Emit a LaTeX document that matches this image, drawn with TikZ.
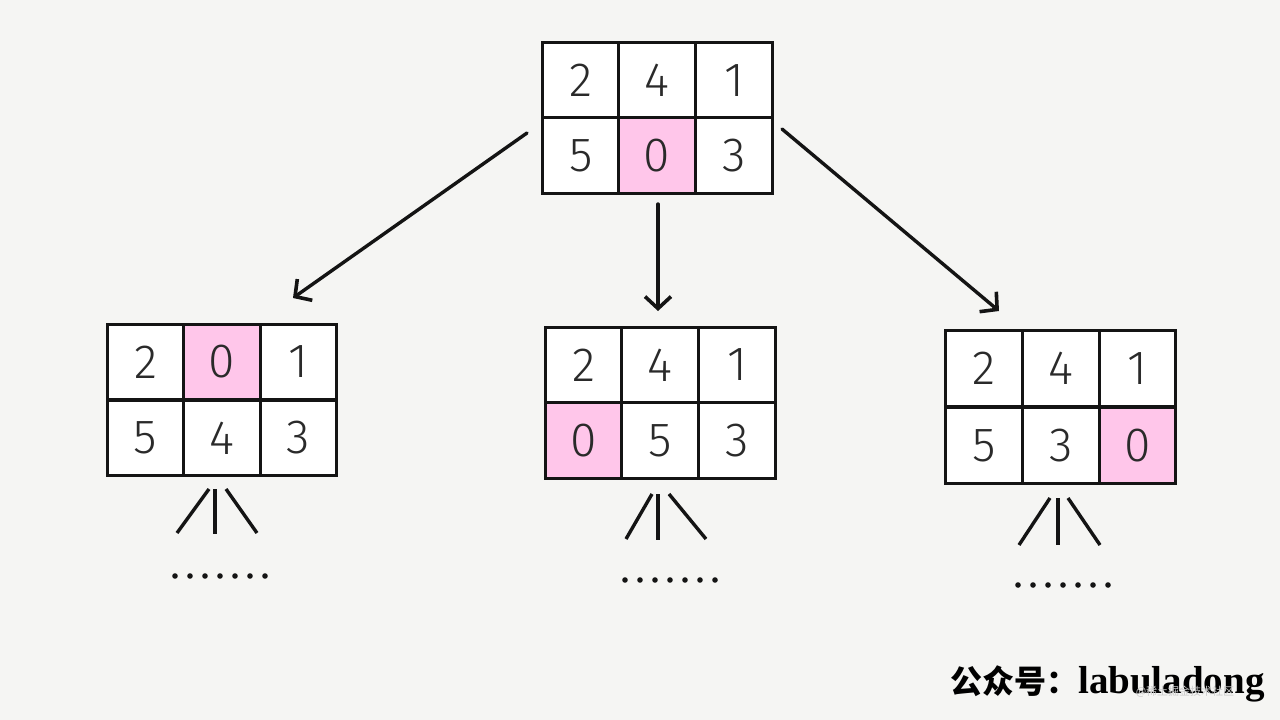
\documentclass[tikz,border=0pt]{standalone}
\usepackage{fontspec}
\setmainfont{Fira Sans Light}
\newfontfamily\cjkfont{Noto Sans CJK SC}
\newfontfamily\wmserif{Liberation Serif}
\usetikzlibrary{arrows.meta}
\definecolor{bgc}{HTML}{F5F5F3}
\definecolor{pinkc}{HTML}{FFC6EA}
\definecolor{inkc}{HTML}{141414}
\definecolor{digc}{HTML}{2A2A2A}
\tikzset{
  cell/.style={draw=inkc, line width=2.6pt, fill=white, minimum width=76.5pt, minimum height=75.5pt,
    inner sep=0pt, font=\fontsize{48}{48}\selectfont, text=digc},
  hot/.style={cell, fill=pinkc},
  arr/.style={draw=inkc, line width=3.4pt, line cap=round, -{Straight Barb[length=12pt,width=26pt,line width=3.6pt]}},
  twig/.style={draw=inkc, line width=3.4pt},
}
\begin{document}
\begin{tikzpicture}[x=1pt,y=-1pt]
\useasboundingbox[fill=bgc] (0,0) rectangle (1280,720);
% top grid
\node[cell] (t11) at (581,80.5) {2};
\node[cell] (t12) at (657,80.5) {4};
\node[cell] (t13) at (734,80.5) {1};
\node[cell] (t21) at (581,155.5) {5};
\node[hot]  (t22) at (657,155.5) {0};
\node[cell] (t23) at (734,155.5) {3};
% left grid
\node[cell] (l11) at (145.5,362) {2};
\node[hot]  (l12) at (222,362) {0};
\node[cell] (l13) at (298.5,362) {1};
\node[cell] (l21) at (145.5,438) {5};
\node[cell] (l22) at (222,438) {4};
\node[cell] (l23) at (298.5,438) {3};
% middle grid
\node[cell] (m11) at (584,365) {2};
\node[cell] (m12) at (660,365) {4};
\node[cell] (m13) at (737,365) {1};
\node[hot]  (m21) at (584,440.5) {0};
\node[cell] (m22) at (660,440.5) {5};
\node[cell] (m23) at (737,440.5) {3};
% right grid
\node[cell] (r11) at (984,368.5) {2};
\node[cell] (r12) at (1061,368.5) {4};
\node[cell] (r13) at (1137.5,368.5) {1};
\node[cell] (r21) at (984,445.5) {5};
\node[cell] (r22) at (1061,445.5) {3};
\node[hot]  (r23) at (1137.5,445.5) {0};
% arrows
\coordinate (aLs) at (527,133);
\coordinate (aLe) at (293,298);
\coordinate (aMs) at (658,204);
\coordinate (aMe) at (658,311);
\coordinate (aRs) at (782,129);
\coordinate (aRe) at (999,311);
\draw[arr] (aLs) -- (aLe);
\draw[arr] (aMs) -- (aMe);
\draw[arr] (aRs) -- (aRe);
% twigs under left
\coordinate (lA) at (209,489); \coordinate (lB) at (177,533);
\coordinate (lC) at (215,489); \coordinate (lD) at (215,534);
\coordinate (lE) at (226,489); \coordinate (lF) at (257,533);
\draw[twig] (lA) -- (lB); \draw[twig] (lC) -- (lD); \draw[twig] (lE) -- (lF);
\foreach \i in {0,...,6} \fill[inkc] (175+15*\i,576) circle (2.8);
% twigs under middle
\coordinate (mA) at (652,494); \coordinate (mB) at (626,539);
\coordinate (mC) at (658,494); \coordinate (mD) at (658,540);
\coordinate (mE) at (669,494); \coordinate (mF) at (706,539);
\draw[twig] (mA) -- (mB); \draw[twig] (mC) -- (mD); \draw[twig] (mE) -- (mF);
\foreach \i in {0,...,6} \fill[inkc] (625+15*\i,580) circle (2.8);
% twigs under right
\coordinate (rA) at (1050,498); \coordinate (rB) at (1019,545);
\coordinate (rC) at (1058,498); \coordinate (rD) at (1058,545);
\coordinate (rE) at (1068,498); \coordinate (rF) at (1100,545);
\draw[twig] (rA) -- (rB); \draw[twig] (rC) -- (rD); \draw[twig] (rE) -- (rF);
\foreach \i in {0,...,6} \fill[inkc] (1018+15*\i,585) circle (2.8);
% watermark
\node[anchor=west, inner sep=0pt, text=black] (wm) at (950,684)
  {{\cjkfont\bfseries\fontsize{32}{32}\selectfont 公众号：}{\wmserif\bfseries\fontsize{39}{39}\selectfont labuladong}};
\node[inner sep=0pt, text=black!20, font=\cjkfont\fontsize{11}{11}\selectfont] (wm2) at (1185,692) {@稀土掘金技术社区};
\end{tikzpicture}
\end{document}
